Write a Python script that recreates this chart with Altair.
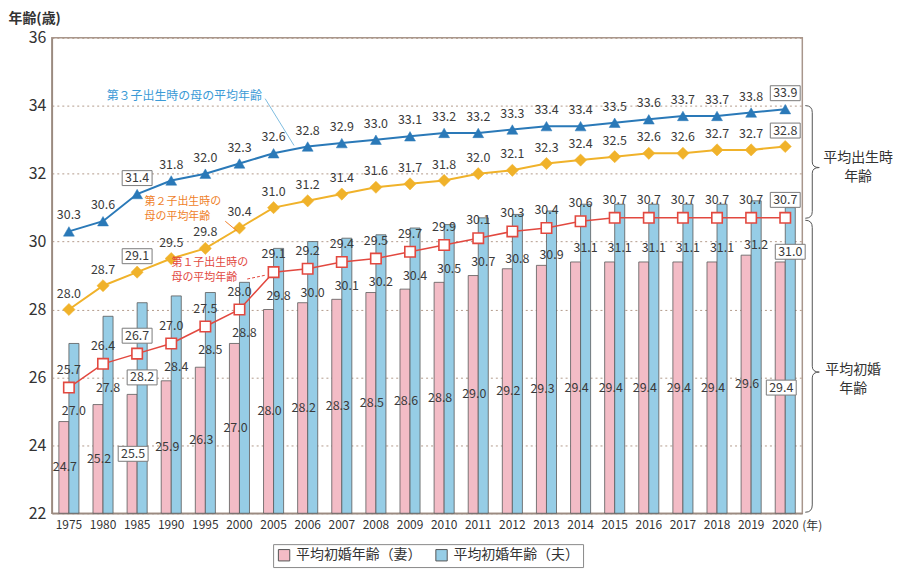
import altair as alt
import pandas as pd

FONT = "Noto Sans CJK JP"

years = ["1975", "1980", "1985", "1990", "1995", "2000", "2005", "2006", "2007", "2008", "2009",
         "2010", "2011", "2012", "2013", "2014", "2015", "2016", "2017", "2018", "2019", "2020"]
wife = [24.7, 25.2, 25.5, 25.9, 26.3, 27.0, 28.0, 28.2, 28.3, 28.5, 28.6,
        28.8, 29.0, 29.2, 29.3, 29.4, 29.4, 29.4, 29.4, 29.4, 29.6, 29.4]
husband = [27.0, 27.8, 28.2, 28.4, 28.5, 28.8, 29.8, 30.0, 30.1, 30.2, 30.4,
           30.5, 30.7, 30.8, 30.9, 31.1, 31.1, 31.1, 31.1, 31.1, 31.2, 31.0]
child1 = [25.7, 26.4, 26.7, 27.0, 27.5, 28.0, 29.1, 29.2, 29.4, 29.5, 29.7,
          29.9, 30.1, 30.3, 30.4, 30.6, 30.7, 30.7, 30.7, 30.7, 30.7, 30.7]
child2 = [28.0, 28.7, 29.1, 29.5, 29.8, 30.4, 31.0, 31.2, 31.4, 31.6, 31.7,
          31.8, 32.0, 32.1, 32.3, 32.4, 32.5, 32.6, 32.6, 32.7, 32.7, 32.8]
child3 = [30.3, 30.6, 31.4, 31.8, 32.0, 32.3, 32.6, 32.8, 32.9, 33.0, 33.1,
          33.2, 33.2, 33.3, 33.4, 33.4, 33.5, 33.6, 33.7, 33.7, 33.8, 33.9]
boxed_years = ["1985", "2020"]

L_WIFE = "平均初婚年齢（妻）"
L_HUS = "平均初婚年齢（夫）"
PINK = "#f3bcc6"
BLUE = "#96cde6"
RED = "#e2483f"
ORANGE = "#f0b22a"
DBLUE = "#2a79b8"
LABEL_C = "#3a3a3a"

W, H = 753, 477

X = alt.X("year:N", sort=years, title=None,
          scale=alt.Scale(paddingInner=0, paddingOuter=0),
          axis=alt.Axis(labelAngle=0, labelFontSize=12, labelColor="#333", labelFont=FONT,
                        ticks=False, labelPadding=6, domainColor="#9a8a80", domainWidth=1.5))


def Y(field):
    return alt.Y(f"{field}:Q", title="年齢(歳)",
                 scale=alt.Scale(domain=[22, 36], nice=False, zero=False),
                 axis=alt.Axis(values=list(range(22, 37, 2)), grid=True, gridDash=[2, 3],
                               gridColor="#b49c8c", gridWidth=1, ticks=False, labelPadding=6,
                               labelFontSize=16, labelColor="#333", labelFont=FONT,
                               domainColor="#9a8a80", domainWidth=1.5,
                               titleAngle=0, titleAlign="left", titleBaseline="middle",
                               titleX=-44, titleY=-19, titleFontSize=14, titleFont=FONT,
                               titleFontWeight="bold", titleColor="#333"))


n = len(years)
df_bar = pd.DataFrame({"year": years * 2, "sex": [L_WIFE] * n + [L_HUS] * n,
                       "value": wife + husband})

bars = alt.Chart(df_bar).mark_bar(stroke="#5a5a5a", strokeWidth=0.8).encode(
    x=X, y=Y("value"), y2=alt.datum(22),
    xOffset=alt.XOffset("sex:N", sort=[L_WIFE, L_HUS],
                        scale=alt.Scale(paddingInner=0, paddingOuter=0.7)),
    color=alt.Color("sex:N", sort=[L_WIFE, L_HUS],
                    scale=alt.Scale(domain=[L_WIFE, L_HUS], range=[PINK, BLUE]),
                    legend=alt.Legend(orient="none", legendX=222, legendY=508, direction="horizontal",
                                      title=None, symbolType="square", symbolSize=130,
                                      symbolStrokeColor="#555", symbolStrokeWidth=1,
                                      labelFont=FONT, labelFontSize=14, labelColor="#333",
                                      strokeColor="#8a8a8a", padding=4, columnPadding=12,
                                      labelOffset=5)),
)

# bar labels
df_w = pd.DataFrame({"year": years, "value": wife})
df_w["ly"] = (22 + df_w["value"]) / 2
df_h = pd.DataFrame({"year": years, "value": husband, "c1": child1})
df_h["ly"] = [min(v - 1.3, c - 0.7) for v, c in zip(df_h["value"], df_h["c1"])]

BOX = "M-1,-0.5L1,-0.5L1,0.5L-1,0.5Z"


def labels(df, yfield, dx, yoff):
    base = alt.Chart(df).encode(x=X, y=Y(yfield))
    box = base.transform_filter(alt.FieldOneOfPredicate(field="year", oneOf=boxed_years)).mark_point(
        shape=BOX, size=900, filled=True, fill="white", stroke="#7a7a7a", strokeWidth=1,
        opacity=1, xOffset=dx, yOffset=yoff)
    txt = base.mark_text(font=FONT, fontSize=12.5, color=LABEL_C, dx=dx, yOffset=yoff,
                         baseline="middle").encode(text=alt.Text("value:Q", format=".1f"))
    return [box, txt]


layers = [bars]
layers += labels(df_w, "ly", -4, 0)
layers += labels(df_h, "ly", 5, 0)


def series(vals, color, shape, size, width, fill, sw):
    d = pd.DataFrame({"year": years, "value": vals})
    base = alt.Chart(d).encode(x=X, y=Y("value"))
    line = base.mark_line(color=color, strokeWidth=width)
    pts = base.mark_point(shape=shape, size=size, filled=True, fill=fill, stroke=color,
                          strokeWidth=sw, opacity=1)
    return [line, pts], d


s1, d1 = series(child1, RED, "square", 110, 1.5, "white", 1.6)
s2, d2 = series(child2, ORANGE, "diamond", 150, 2, ORANGE, 0.5)
s3, d3 = series(child3, DBLUE, "triangle-up", 120, 2, DBLUE, 0.5)
layers += s1 + s2 + s3
layers += labels(d1, "value", 0, -18)
layers += labels(d2, "value", 0, -16)
layers += labels(d3, "value", 0, -16)


def note(text, x, y, color, size=12, align="left", weight="normal"):
    return alt.Chart(pd.DataFrame({"t": [text]})).mark_text(
        font=FONT, fontSize=size, color=color, align=align, baseline="middle",
        fontWeight=weight).encode(x=alt.value(x), y=alt.value(y), text="t:N")


def leader(x1, y1, x2, y2, color, dash=None):
    kw = dict(color=color, strokeWidth=1)
    if dash:
        kw["strokeDash"] = dash
    return alt.Chart(pd.DataFrame({"a": [0]})).mark_rule(**kw).encode(
        x=alt.value(x1), x2=alt.value(x2), y=alt.value(y1), y2=alt.value(y2))


layers += [
    note("第３子出生時の母の平均年齢", 55, 58, "#3a9ad6"),
    leader(214, 61, 243, 108, "#7fbde0"),
    note("第２子出生時の", 93, 165, "#ef7f2a", size=11),
    note("母の平均年齢", 93, 180, "#ef7f2a", size=11),
    leader(174, 184, 186, 194, "#ef7f2a"),
    note("第１子出生時の", 120, 226, RED, size=11),
    note("母の平均年齢", 120, 241, RED, size=11),
    leader(196, 242, 215, 238, RED, dash=[3, 2]),
    note("平均出生時", 809, 121, "#333", size=14, align="center"),
    note("年齢", 809, 140, "#333", size=14, align="center"),
    note("平均初婚", 804, 333, "#333", size=14, align="center"),
    note("年齢", 804, 352, "#333", size=14, align="center"),
    note("(年)", 763, 490, "#333", size=12, align="center"),
]

# braces
BR_UP = "M-0.124,-1Q0,-1 0,-0.88L0,0Q0,0.1 0.124,0.1Q0,0.1 0,0.2L0,0.88Q0,1 -0.124,1"
BR_LO = "M-0.048,-1Q0,-1 0,-0.95L0,0Q0,0.04 0.048,0.04Q0,0.04 0,0.08L0,0.95Q0,1 -0.048,1"
for shp, cy, sz in [(BR_UP, 124.5, 113 ** 2), (BR_LO, 329.5, 293 ** 2)]:
    layers.append(alt.Chart(pd.DataFrame({"a": [0]})).mark_point(
        shape=shp, size=sz, filled=False, stroke="#555", strokeWidth=1, opacity=1).encode(
        x=alt.value(763), y=alt.value(cy)))

chart = alt.layer(*layers).properties(
    width=W, height=H, padding={"top": 3, "left": 0, "right": 0, "bottom": 0}
).configure_view(stroke="#a8968c", strokeWidth=1.5)

chart.save("out.html", embed_options={"renderer": "svg", "actions": False})
